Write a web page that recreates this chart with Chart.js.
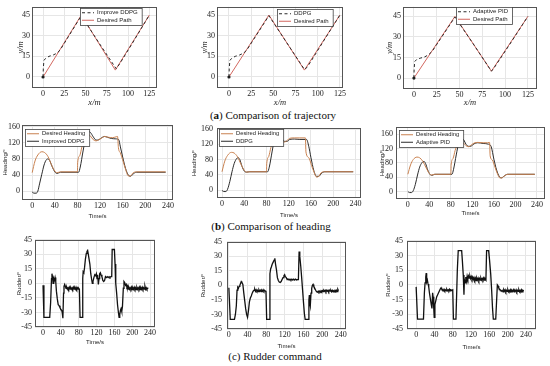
<!DOCTYPE html>
<html>
<head>
<meta charset="utf-8">
<script src="https://cdn.jsdelivr.net/npm/chart.js"></script>
<style>
  body { margin: 0; background: #fff; }
  #wrap { position: relative; width: 550px; height: 366px; overflow: hidden; background: #fff; }
  #wrap canvas { position: absolute; }
  .cap { position: absolute; font-family: "Liberation Serif", serif; font-size: 11px; line-height: 11px;
         color: #111; white-space: nowrap; transform: translateX(-50%); }
</style>
</head>
<body>
<div id="wrap">
  <div class="cap" style="left:273px;top:110px">(<b>a</b>) Comparison of trajectory</div>
  <div class="cap" style="left:271px;top:221px">(<b>b</b>) Comparison of heading</div>
  <div class="cap" style="left:275px;top:351px">(c) Rudder command</div>
</div>

<script>
// (a) trajectory, x/m and y/m
var pathX = [0, 45, 85, 125];
var pathY = [0, 45, 5, 45];
var iddpgTrajX = [0, 0.3, 1, 3, 7, 12, 17, 21, 30, 45, 65, 86, 90, 105, 125];
var iddpgTrajY = [0, 6, 12, 13.5, 15, 16, 17.5, 20.5, 29.5, 44.5, 25.5, 6, 9.5, 24.5, 45];
var ddpgTrajX = [0, 0.3, 1, 3, 7, 12, 17, 21, 30, 45, 65, 85, 88, 92, 105, 125];
var ddpgTrajY = [0, 6, 12, 13.5, 15, 16, 17.5, 20.5, 29.5, 44.5, 25, 5.5, 7, 11, 24.5, 45];
var pidTrajX = [0, 0.2, 0.8, 3, 7, 12, 16, 20, 30, 45, 65, 85, 88, 105, 125];
var pidTrajY = [0, 6, 12, 13.5, 14.5, 15.5, 17, 19.5, 29.5, 44.5, 25, 5, 7.5, 24.5, 45];
var trajXTicks = [0, 25, 50, 75, 100, 125];
var trajYTicks = [0, 15, 30, 45];

// (b) heading in degrees vs time in s
var hdgDes1T = [0, 5, 10, 17, 22, 28, 34, 40, 44, 50, 80, 80.5, 84, 88, 93, 98, 103, 108, 113, 118, 123, 128, 135, 142, 148, 151, 152.5, 156, 160, 165, 170, 174, 178, 185, 236];
var hdgDes1Y = [46, 75, 90, 98, 96, 86, 66, 50, 46, 48, 48, 72, 88, 110, 133, 142, 137, 128, 125, 128, 132, 136, 134, 133, 135, 136, 108, 95, 78, 55, 38, 38, 45, 48, 48];
var hdgIddpgT = [0, 3, 7, 10, 13, 17, 21, 25, 28, 31, 35, 40, 44, 50, 82, 85, 90, 95, 100, 103, 108, 113, 118, 123, 128, 133, 140, 148, 153, 156, 160, 165, 170, 174, 178, 184, 236];
var hdgIddpgY = [-2, -5, -5, 0, 18, 42, 65, 78, 80, 76, 62, 48, 44, 47, 47, 60, 100, 135, 148, 146, 135, 127, 128, 133, 136, 134, 131, 130, 128, 110, 85, 57, 40, 37, 42, 47, 47];
var hdgDes2T = [0, 5, 10, 17, 22, 28, 34, 40, 44, 50, 80, 80.5, 84, 88, 93, 98, 103, 108, 112, 117, 122, 130, 140, 150, 151, 156, 161, 166, 170, 174, 178, 184, 236];
var hdgDes2Y = [48, 76, 91, 99, 97, 87, 68, 52, 47, 48, 48, 70, 88, 112, 135, 144, 138, 130, 126, 130, 136, 137, 137, 137, 100, 85, 65, 45, 34, 36, 45, 48, 48];
var hdgDdpgT = [0, 3, 7, 10, 14, 18, 22, 26, 29, 32, 36, 40, 44, 50, 82, 85, 90, 95, 100, 104, 108, 112, 117, 122, 130, 140, 152, 156, 160, 165, 170, 174, 179, 185, 236];
var hdgDdpgY = [-1, -4, -4, 2, 22, 48, 70, 82, 85, 80, 62, 50, 47, 48, 48, 60, 100, 138, 148, 145, 135, 128, 128, 133, 134, 133, 133, 115, 85, 52, 36, 36, 44, 48, 48];
var hdgDes3T = [0, 5, 10, 17, 22, 28, 34, 40, 44, 50, 80, 80.5, 84, 88, 93, 98, 103, 108, 113, 118, 123, 130, 140, 148, 152, 153, 157, 162, 167, 171, 175, 180, 186, 236];
var hdgDes3Y = [48, 74, 89, 96, 94, 84, 66, 50, 46, 48, 48, 74, 92, 115, 135, 141, 136, 128, 125, 130, 135, 137, 136, 136, 137, 100, 88, 68, 48, 38, 38, 44, 48, 48];
var hdgPidT = [0, 3, 7, 10, 14, 18, 22, 26, 30, 33, 37, 41, 45, 50, 82, 85, 90, 95, 100, 104, 108, 113, 118, 123, 130, 140, 150, 155, 160, 165, 170, 174, 179, 185, 236];
var hdgPidY = [0, -3, -3, 2, 20, 46, 68, 80, 84, 78, 60, 48, 45, 48, 48, 62, 102, 138, 148, 144, 132, 126, 127, 133, 136, 134, 132, 125, 90, 60, 42, 38, 43, 48, 48];
var timeTicks = [0, 40, 80, 120, 160, 200, 240];
var hdgYTicks = [0, 40, 80, 120, 160];

// (c) rudder command in degrees vs time in s
var rudIddpgT = [0, 2, 15, 17, 19, 20, 21.5, 22.5, 24, 25.5, 27, 28.5, 30, 32, 34, 36, 38, 40, 42, 43,
  44.5, 46, 47, 48.5, 50, 51.5, 53, 54.5, 56, 57.5, 59, 60.5, 62, 63.5, 65, 66.5, 68, 69.5, 71, 72.5,
  74, 75.5, 77, 78.5, 80, 81.5, 83, 88, 89, 90, 91.5, 93, 95, 97, 98.5, 100, 101.5, 103, 105, 107,
  109, 110.5, 112, 114, 116, 118, 119.5, 121, 122.5, 124, 125.5, 127, 128.5, 130, 132, 134, 136, 138, 140, 142,
  144, 146, 148, 150, 152, 154, 155, 160, 161.5, 163, 165, 167, 169, 170.5, 172, 173.5, 175, 176.5, 178, 180,
  181.5, 183, 185, 186.5, 188, 189.5, 191, 192.5, 194, 195.5, 197, 198.5, 200, 201.5, 203, 204.5, 206, 207.5, 209, 210.5,
  212, 213.5, 215, 216.5, 218, 219.5, 221, 222.5, 224, 225.5, 227, 228.5, 230, 231.5, 233, 234.5, 236];
var rudIddpgY = [-2, -35, -35, -20, 5, 10, 6, 0, 5, 3, 6, 2, -8, -16, -22, -23, -25, -27, -28, -30,
  -36, -10, -3, -1, -3, -5, -4, -6, -4.5, -6, -4, -6, -4.5, -6, -4.5, -6, -4, -6, -4.5, -6,
  -4, -6, -4.5, -6, -5, -6, -35, -35, 5, 12, 11, 16, 25, 31, 33, 34, 30, 30, 20, 10,
  4, 0, 2, 6, 9, 8, 10, 5, 9, -1, 5, 10, 11, 9, 7, 3, 2, 3, 7, 6,
  7, 6, 7, 6, 7, 7, 35, 35, 20, 0, -10, -22, -30, -35, -32, -28, -26, -29, -24, -5,
  2, 1, -2, -1, -4, -3, -6, -4, -6, -4.5, -6, -4, -6.5, -4.5, -6, -4, -6, -4.5, -6.5, -4,
  -6, -4.5, -6, -4, -6.5, -4.5, -6, -4, -6, -4.5, -6, -3, -6, -4.5, -6, -5, -4.5];
var rudDdpgT = [0, 3, 12, 14, 16, 17.5, 19, 20.5, 22, 23.5, 25, 26.5, 28, 30, 32, 34, 36, 38, 40, 42,
  44, 46, 48, 50, 52, 54, 55.5, 57, 58.5, 60, 61.5, 63, 64.5, 66, 67.5, 69, 70.5, 72, 73.5, 75,
  76.5, 78, 79.5, 81, 86, 88, 89.5, 91, 93, 95, 97, 98.5, 100, 102, 104, 106, 108, 110, 112, 114,
  116, 118, 119.5, 121, 123, 125, 127, 129, 131, 133, 135, 137, 139, 141, 143, 145, 147, 149, 150.5, 152,
  154, 156, 158, 160, 162, 163.5, 170, 171.5, 172.5, 173.5, 174.5, 176, 177.5, 179, 180.5, 182, 184, 186, 188, 190,
  191.5, 193, 194.5, 196, 197.5, 199, 200.5, 202, 203.5, 205, 206.5, 208, 209.5, 211, 212.5, 214, 215.5, 217, 218.5, 220,
  221.5, 223, 224.5, 226, 227.5, 229, 230.5, 232, 233.5, 235];
var rudDdpgY = [-2.5, -35, -35, -30, -21, -5, -2, -3, -1, 0, 2, 4, 3, 1, -8, -16, -24, -30, -33, -26,
  -17, -13, -11, -8, -6, -5, -4, -6, -4.5, -6, -5, -6.5, -4.5, -6, -5, -6.5, -5, -6, -4.5, -6,
  -5, -6, -5.5, -35, -35, 12, 17, 19, 22, 24, 26, 28, 22, 16, 8, 5, 3.5, 3, 4, 6,
  8, 10, 11, 9, 8, 6, 6.5, 5.5, 6.5, 5.5, 6.5, 5.5, 6.5, 5.5, 6.5, 5.5, 6, 6, 35, 30,
  20, 8, -5, -18, -30, -35, -35, -15, -10, -18, -21, -8, -3, 0, 1, -1, -3, -5, -6.5, -7,
  -6, -7, -6, -7, -5.5, -6.5, -5.5, -6.5, -5, -6, -5, -6.5, -5, -6, -5, -6.5, -5, -6, -5, -6.5,
  -5, -6, -5.5, -6.5, -5, -6, -5, -6.5, -4, -5.5];
var rudPidT = [0, 1.5, 3, 16, 18, 19.5, 21, 22, 23, 24.5, 26, 27.5, 29, 31, 33, 34.5, 36, 37, 38.5, 39.5,
  41, 43, 45, 47, 49, 51, 53, 54.5, 56, 58, 59.5, 61, 62.5, 64, 65.5, 67, 68.5, 70, 71.5, 73,
  74.5, 76, 78, 80, 81.5, 87, 90, 92, 99.5, 101, 103, 104.5, 105.5, 107, 108.5, 110, 111.5, 113, 114.5, 116,
  117.5, 119, 120.5, 122, 123.5, 125, 126.5, 128, 129.5, 131, 132.5, 134, 135.5, 137, 138.5, 140, 141.5, 143, 144.5, 146,
  147.5, 149, 150.5, 152.5, 154, 158.5, 160.5, 163, 165, 167, 168.7, 174, 177.5, 179, 180.5, 182, 184, 186, 188, 190,
  191.5, 193, 194.5, 196, 197.5, 199, 200.5, 202, 203.5, 205, 206.5, 208, 209.5, 211, 212.5, 214, 215.5, 217, 218.5, 220,
  221.5, 223, 224.5, 226, 227.5, 229, 230.5, 232, 233.5, 235.5];
var rudPidY = [-2, -2, -35, -35, -8, 2, 8, 12, 3, 5, 1, -2, -8, -14, -20, -24, -8, -12, -24, -33,
  -20, -16, -12, -10, -8, -6, -4, -3, -4.5, -5, -6, -4.5, -6, -5, -6, -4.5, -6, -5, -6, -4.5,
  -6, -5, -5.5, -5, -35, -35, 15, 35, 35, 25, 10, -10, 5, 2, 8, 4, 9, 6, 9, 7,
  9, 6.5, 8.5, 6, 8, 5.5, 7.5, 5, 7, 4.5, 7, 5, 7, 4.5, 6.5, 5, 7, 5, 6.5, 5,
  7, 5, 6.5, 5, 35, 35, 25, 11, -5, -24, -35, -35, 0, -1, -3, -4, -5, -6.5, -5.5, -7,
  -5, -6.5, -5, -7, -5.5, -6.5, -5, -7, -5.5, -6.5, -5, -7, -5.5, -6.5, -5, -7, -5.5, -6.5, -5, -7,
  -5.5, -6.5, -5, -7, -5.5, -6.5, -5, -7, -5.5, -6];
var rudYTicks = [-45, -30, -15, 0, 15, 30, 45];

var pathRed = '#d2675f';
var hdgOrange = '#c9814f';
var ink = '#1e1e1e';

function pts(xs, ys) {
  return xs.map(function (x, i) { return { x: x, y: ys[i] }; });
}

// frame round the plot area plus a small boxed legend inside it
var framePlugin = {
  id: 'frame',
  afterDraw: function (chart) {
    var a = chart.chartArea, ctx = chart.ctx;
    ctx.save();
    ctx.strokeStyle = '#555';
    ctx.lineWidth = 1;
    ctx.strokeRect(Math.round(a.left) + 0.5, Math.round(a.top) + 0.5,
      Math.round(a.right - a.left) - 1, Math.round(a.bottom - a.top) - 1);

    var lg = chart.options.plugins.frame.legend;
    if (lg) {
      var sets = chart.data.datasets;
      ctx.font = lg.size + 'px "Liberation Sans", Arial, sans-serif';
      var tw = 0;
      sets.forEach(function (d) { tw = Math.max(tw, ctx.measureText(d.label).width); });
      var w = lg.sample + tw + 9, h = lg.row * sets.length + 2;
      var x0 = lg.side === 'right' ? Math.round(a.right - lg.dx - w) : Math.round(a.left + lg.dx);
      var y0 = Math.round(a.top + lg.dy);
      ctx.fillStyle = '#fff';
      ctx.fillRect(x0, y0, w, h);
      ctx.strokeStyle = '#444';
      ctx.lineWidth = 0.8;
      ctx.strokeRect(x0 + 0.5, y0 + 0.5, w, h);
      sets.forEach(function (d, i) {
        var yy = y0 + 1 + lg.row * (i + 0.5);
        ctx.beginPath();
        ctx.setLineDash(d.borderDash || []);
        ctx.strokeStyle = d.borderColor;
        ctx.lineWidth = d.borderWidth;
        ctx.moveTo(x0 + 2, yy);
        ctx.lineTo(x0 + 2 + lg.sample, yy);
        ctx.stroke();
        ctx.setLineDash([]);
        ctx.fillStyle = '#222';
        ctx.textBaseline = 'middle';
        ctx.textAlign = 'left';
        ctx.fillText(d.label, x0 + lg.sample + 5, yy);
      });
    }
    ctx.restore();
  }
};

var tickFont = { family: '"Liberation Serif", serif', size: 8 };
var mFont = { family: '"Liberation Serif", serif', size: 8.5, style: 'italic', lineHeight: 1.2 };
var sFont = { family: '"Liberation Sans", Arial, sans-serif', size: 6, lineHeight: 1.2 };

function panel(p) {
  var cv = document.createElement('canvas');
  cv.width = p.w;
  cv.height = p.h;
  cv.style.left = p.left + 'px';
  cv.style.top = p.top + 'px';
  document.getElementById('wrap').appendChild(cv);
  return new Chart(cv, {
    type: 'line',
    data: { datasets: p.sets },
    options: {
      responsive: false,
      animation: false,
      devicePixelRatio: 1,
      layout: { padding: { top: p.pt, right: p.pr, left: 0, bottom: 0 } },
      elements: { point: { radius: 0 } },
      plugins: { legend: { display: false }, tooltip: { enabled: false }, frame: { legend: p.legend } },
      scales: {
        x: {
          type: 'linear', min: p.xr[0], max: p.xr[1],
          afterFit: function (s) { s.height = p.xh; },
          afterBuildTicks: function (s) { s.ticks = p.xt.map(function (v) { return { value: v }; }); },
          grid: { color: '#e6e6e6', drawTicks: false },
          border: { display: false },
          ticks: { font: tickFont, color: '#222', padding: 1, maxRotation: 0, autoSkip: false },
          title: { display: true, text: p.xTitle, font: p.tFont, color: '#222', padding: { top: 0, bottom: p.xtp } }
        },
        y: {
          type: 'linear', min: p.yr[0], max: p.yr[1],
          afterFit: function (s) { s.width = p.yw; },
          afterBuildTicks: function (s) { s.ticks = p.yt.map(function (v) { return { value: v }; }); },
          grid: { color: '#e6e6e6', drawTicks: false },
          border: { display: false },
          ticks: { font: tickFont, color: '#222', padding: p.ypad, autoSkip: false },
          title: { display: true, text: p.yTitle, font: p.tFont, color: '#222', padding: { top: p.ytp, bottom: 0 } }
        }
      }
    },
    plugins: [framePlugin]
  });
}

function trajSets(label, xs, ys) {
  return [
    { label: label, data: pts(xs, ys), borderColor: '#2a2a2a', borderWidth: 1, borderDash: [3, 2.5], tension: 0,
      pointRadius: function (c) { return c.dataIndex === 0 ? 1.6 : 0; }, pointBackgroundColor: ink, pointBorderWidth: 0 },
    { label: 'Desired Path', data: pts(pathX, pathY), borderColor: pathRed, borderWidth: 1, tension: 0 }
  ];
}
function hdgSets(desT, desY, label, t, y) {
  return [
    { label: 'Desired Heading', data: pts(desT, desY), borderColor: hdgOrange, borderWidth: 1, cubicInterpolationMode: 'monotone' },
    { label: label, data: pts(t, y), borderColor: '#2b2b2b', borderWidth: 1, cubicInterpolationMode: 'monotone' }
  ];
}
function rudSets(t, y) {
  return [{ label: 'Rudder', data: pts(t, y), borderColor: '#111', borderWidth: 1.3, tension: 0 }];
}

var legRow1 = { size: 6, row: 7.5, sample: 12 };
var legRow2 = { size: 5.8, row: 7.5, sample: 12 };

// row (a)
panel({ left: 0, top: 0, w: 162, h: 108, yw: 32, xh: 20, pt: 6, pr: 5,
  xr: [-13, 134], yr: [-8, 51], xt: trajXTicks, yt: trajYTicks, ypad: 2,
  xTitle: 'x/m', yTitle: 'y/m', tFont: mFont, xtp: 0, ytp: 16,
  legend: Object.assign({ side: 'right', dx: 15, dy: 1 }, legRow1),
  sets: trajSets('Improve DDPG', iddpgTrajX, iddpgTrajY) });
panel({ left: 185, top: 0, w: 162, h: 108, yw: 32, xh: 20, pt: 5, pr: 4,
  xr: [-13.5, 128.5], yr: [-8, 51], xt: trajXTicks, yt: trajYTicks, ypad: 2,
  xTitle: 'x/m', yTitle: 'y/m', tFont: mFont, xtp: 0, ytp: 15,
  legend: Object.assign({ side: 'right', dx: 10, dy: 2 }, legRow1),
  sets: trajSets('DDPG', ddpgTrajX, ddpgTrajY) });
panel({ left: 371, top: 0, w: 170, h: 108, yw: 32, xh: 19, pt: 5, pr: 4,
  xr: [-12, 135], yr: [-8, 52], xt: trajXTicks, yt: trajYTicks, ypad: 2,
  xTitle: 'x/m', yTitle: 'y/m', tFont: mFont, xtp: 0, ytp: 14,
  legend: Object.assign({ side: 'right', dx: 25, dy: 0 }, legRow1),
  sets: trajSets('Adaptive PID', pidTrajX, pidTrajY) });

// row (b)
panel({ left: 0, top: 118, w: 178, h: 104, yw: 22, xh: 22, pt: 5, pr: 5,
  xr: [-18, 249], yr: [-22, 165], xt: timeTicks, yt: hdgYTicks, ypad: 2,
  xTitle: 'Time/s', yTitle: 'Heading/\u00b0', tFont: sFont, xtp: 2, ytp: 2,
  legend: Object.assign({ side: 'left', dx: 3, dy: 4 }, legRow2),
  sets: hdgSets(hdgDes1T, hdgDes1Y, 'Improved DDPG', hdgIddpgT, hdgIddpgY) });
panel({ left: 185, top: 118, w: 180, h: 104, yw: 32, xh: 24, pt: 10, pr: 4,
  xr: [-9, 250], yr: [-21, 163], xt: timeTicks, yt: hdgYTicks, ypad: 4,
  xTitle: 'Time/s', yTitle: 'Heading/\u00b0', tFont: sFont, xtp: 3, ytp: 6,
  legend: Object.assign({ side: 'left', dx: 2, dy: 1 }, legRow2),
  sets: hdgSets(hdgDes2T, hdgDes2Y, 'DDPG', hdgDdpgT, hdgDdpgY) });
panel({ left: 372, top: 118, w: 178, h: 104, yw: 24, xh: 23, pt: 9, pr: 5,
  xr: [-22, 255], yr: [-21, 180], xt: timeTicks, yt: hdgYTicks, ypad: 3,
  xTitle: 'Time/s', yTitle: 'Heading/\u00b0', tFont: sFont, xtp: 5, ytp: 7,
  legend: Object.assign({ side: 'left', dx: 3, dy: 3 }, legRow2),
  sets: hdgSets(hdgDes3T, hdgDes3Y, 'Adaptive PID', hdgPidT, hdgPidY) });

// row (c)
panel({ left: 0, top: 232, w: 160, h: 116, yw: 35, xh: 21, pt: 7, pr: 5,
  xr: [-18, 251], yr: [-45, 45], xt: timeTicks, yt: rudYTicks, ypad: 3,
  xTitle: 'Time/s', yTitle: 'Rudder/\u00b0', tFont: sFont, xtp: 2, ytp: 16,
  sets: rudSets(rudIddpgT, rudIddpgY) });
panel({ left: 190, top: 232, w: 160, h: 120, yw: 37, xh: 23, pt: 6, pr: 4,
  xr: [-4, 251], yr: [-45, 45], xt: timeTicks, yt: rudYTicks, ypad: 5,
  xTitle: 'Time/s', yTitle: 'Rudder/\u00b0', tFont: sFont, xtp: 2, ytp: 10,
  sets: rudSets(rudDdpgT, rudDdpgY) });
panel({ left: 372, top: 232, w: 168, h: 120, yw: 35, xh: 23, pt: 5, pr: 4,
  xr: [-20, 262], yr: [-45, 45], xt: timeTicks, yt: rudYTicks, ypad: 4,
  xTitle: 'Time/s', yTitle: 'Rudder/\u00b0', tFont: sFont, xtp: 1, ytp: 13,
  sets: rudSets(rudPidT, rudPidY) });
</script>
</body>
</html>
